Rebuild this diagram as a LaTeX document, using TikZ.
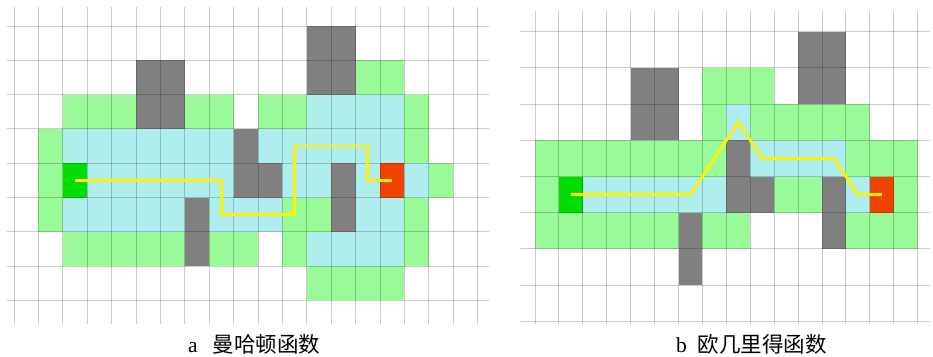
\documentclass[tikz,border=0pt]{standalone}
\usepackage{fontspec}
\setmainfont{Liberation Serif}
\newfontfamily\cjk{Noto Sans CJK SC}
\definecolor{obs}{HTML}{808080}
\definecolor{nearc}{HTML}{98FB98}
\definecolor{openc}{HTML}{AFEEEE}
\definecolor{startc}{HTML}{00DD00}
\definecolor{goalc}{HTML}{EE4400}
\definecolor{pathc}{HTML}{FFF200}
\begin{document}
\begin{tikzpicture}[x=1pt,y=-1pt,
  gridline/.style={draw=black,opacity=0.2,line width=1pt},
  pathline/.style={draw=pathc,line width=2.8pt,line join=miter},
  caption/.style={font=\fontsize{21.5}{23}\selectfont,inner sep=0pt,anchor=base west}]
\useasboundingbox (0,0) rectangle (933,356);
% ---------------- grid a ----------------
\newcommand\cellA[2]{({14+24.4*#1},{26+34.3*#2}) rectangle ++(24.4,34.3)}
\foreach \cx/\cy in {5/1,6/1,12/0,13/0,12/1,13/1,5/2,6/2,9/3,9/4,10/4,13/4,13/5,7/5,7/6}
  \fill[obs] \cellA{\cx}{\cy};
\foreach \cx/\cy in {14/1,15/1,2/2,3/2,4/2,7/2,8/2,10/2,11/2,16/2,1/3,16/3,1/4,17/4,
  1/5,11/5,12/5,16/5,2/6,3/6,4/6,5/6,6/6,8/6,9/6,11/6,16/6,12/7,13/7,14/7,15/7}
  \fill[nearc] \cellA{\cx}{\cy};
\foreach \cx/\cy in {12/2,13/2,14/2,15/2,2/3,3/3,4/3,5/3,6/3,7/3,8/3,10/3,11/3,12/3,13/3,14/3,15/3,
  3/4,4/4,5/4,6/4,7/4,8/4,11/4,12/4,14/4,16/4,2/5,3/5,4/5,5/5,6/5,8/5,9/5,10/5,14/5,15/5,
  12/6,13/6,14/6,15/6}
  \fill[openc] \cellA{\cx}{\cy};
\fill[startc] \cellA{2}{4};
\fill[goalc] \cellA{15}{4};
\foreach \k in {0,...,19} \draw[gridline] ({14+24.4*\k},7) -- ({14+24.4*\k},324);
\foreach \k in {0,...,8} \draw[gridline] (7,{26+34.3*\k}) -- (489,{26+34.3*\k});
\draw[pathline] ({26.2+24.4*2},{43.15+34.3*4}) -- ({26.2+24.4*8},{43.15+34.3*4})
  -- ({26.2+24.4*8},{43.15+34.3*5}) -- ({26.2+24.4*11},{43.15+34.3*5})
  -- ({26.2+24.4*11},{43.15+34.3*3}) -- ({26.2+24.4*14},{43.15+34.3*3})
  -- ({26.2+24.4*14},{43.15+34.3*4}) -- ({26.2+24.4*15},{43.15+34.3*4});
% ---------------- grid b ----------------
\newcommand\cellB[2]{({535+23.92*#1},{31.7+36.2*#2}) rectangle ++(23.92,36.2)}
\foreach \cx/\cy in {4/1,5/1,4/2,5/2,11/0,12/0,11/1,12/1,8/3,8/4,9/4,12/4,12/5,6/5,6/6}
  \fill[obs] \cellB{\cx}{\cy};
\foreach \cx/\cy in {7/1,8/1,9/1,7/2,9/2,10/2,11/2,12/2,13/2,
  0/3,1/3,2/3,3/3,4/3,5/3,6/3,7/3,13/3,14/3,15/3,0/4,10/4,11/4,15/4,
  0/5,1/5,2/5,3/5,4/5,5/5,7/5,8/5,13/5,14/5,15/5}
  \fill[nearc] \cellB{\cx}{\cy};
\foreach \cx/\cy in {8/2,9/3,10/3,11/3,12/3,2/4,3/4,4/4,5/4,6/4,7/4,13/4}
  \fill[openc] \cellB{\cx}{\cy};
\fill[startc] \cellB{1}{4};
\fill[goalc] \cellB{14}{4};
\foreach \k in {0,...,16} \draw[gridline] ({535+23.92*\k},11) -- ({535+23.92*\k},324);
\foreach \k in {0,...,8} \draw[gridline] (520,{31.7+36.2*\k}) -- (930,{31.7+36.2*\k});
\draw[pathline] ({546.96+23.92*1},{49.8+36.2*4}) -- ({546.96+23.92*6},{49.8+36.2*4})
  -- ({546.96+23.92*8},{49.8+36.2*2}) -- ({546.96+23.92*9},{49.8+36.2*3})
  -- ({546.96+23.92*12},{49.8+36.2*3}) -- ({546.96+23.92*13},{49.8+36.2*4})
  -- ({546.96+23.92*14},{49.8+36.2*4});
% ---------------- captions ----------------
\node[caption] (capa) at (188,352) {a\hspace{15pt}{\cjk 曼哈顿函数}};
\node[caption] (capb) at (676,352) {b\hspace{11pt}{\cjk 欧几里得函数}};
\end{tikzpicture}
\end{document}
